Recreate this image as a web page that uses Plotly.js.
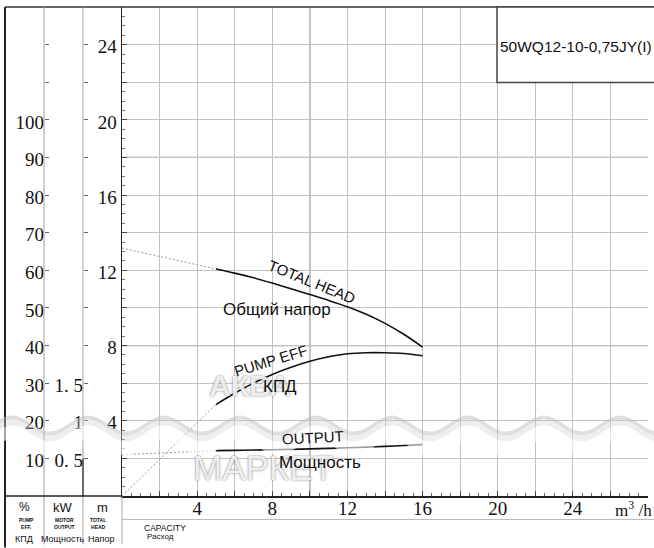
<!DOCTYPE html>
<html><head><meta charset="utf-8">
<script src="https://cdn.plot.ly/plotly-3.0.1.min.js"></script>
<style>html,body{margin:0;padding:0;background:#fff;}#chart{width:654px;height:548px;}</style>
</head><body><div id="chart"></div>
<script>
// ---- data ----
const headQDash = [0, 5];
const headDash = [13.18, 12.07];
const flowQ = [5, 6, 7, 8, 9, 10, 11, 12, 13, 14, 15, 16];
const headM = [12.07, 11.85, 11.6, 11.32, 11.02, 10.71, 10.4, 10.06, 9.66, 9.18, 8.6, 7.92];
const effQDash = [0, 5];
const effDash = [0, 24.3];
const effPct = [24.3, 27.3, 30.0, 32.3, 34.2, 35.8, 37.0, 37.8, 38.1, 38.1, 37.9, 37.3];
const powQDash = [0, 5];
const powDash = [0.55, 0.603];
const powKW = [0.603, 0.607, 0.611, 0.615, 0.620, 0.626, 0.633, 0.641, 0.650, 0.660, 0.671, 0.683];

const xTickVals = [2, 4, 6, 8, 10, 12, 14, 16, 18, 20, 22, 24, 26, 28];
const xTickText = ['', '4', '', '8', '', '12', '', '16', '', '20', '', '24', '', ''];
const headTickVals = [2, 4, 6, 8, 10, 12, 14, 16, 18, 20, 22, 24, 26];
const headTickText = ['', '4', '', '8', '', '12', '', '16', '', '20', '', '24', ''];
const pctTickVals = [10, 20, 30, 40, 50, 60, 70, 80, 90, 100, 110, 120, 130];
const pctTickText = ['10', '20', '30', '40', '50', '60', '70', '80', '90', '100', '', '', ''];
const kwTickVals = [0.5, 1, 1.5, 2, 2.5, 3, 3.5, 4, 4.5, 5, 5.5, 6, 6.5];
const kwTickText = ['0. 5', '1', '1. 5', '', '', '', '', '', '', '', '', '', ''];

const modelName = '50WQ12-10-0,75JY(I)';

// ---- geometry helpers (pixel -> paper) ----
const W = 654, Hh = 548, ML = 5, MR = 6, MT = 7, MB = 51.5;
const PW = W - ML - MR, PH = Hh - MT - MB;
const px = v => (v - ML) / PW;
const py = v => (Hh - MB - v) / PH;

const serif = 'Liberation Serif, Times New Roman, serif';
const sans = 'Liberation Sans, Arial, sans-serif';
const tickFont = {family: serif, size: 19, color: '#111'};

const dashLine = {color: '#8a8a8a', width: 0.9, dash: '2px,2px'};
const solidLine = {color: '#111', width: 1.6, shape: 'spline', smoothing: 0.8};

const traces = [
  {x: headQDash, y: headDash, mode: 'lines', line: dashLine, yaxis: 'y', hoverinfo: 'skip'},
  {x: flowQ, y: headM, mode: 'lines', line: solidLine, yaxis: 'y'},
  {x: effQDash, y: effDash, mode: 'lines', line: dashLine, yaxis: 'y2', hoverinfo: 'skip'},
  {x: flowQ, y: effPct, mode: 'lines', line: solidLine, yaxis: 'y2'},
  {x: powQDash, y: powDash, mode: 'lines', line: dashLine, yaxis: 'y3', hoverinfo: 'skip'},
  {x: flowQ, y: powKW, mode: 'lines', line: solidLine, yaxis: 'y3'}
];

// watermark wave (decoration)
function wavePath(off0, off1) {
  const P = 76, x0 = 12, amp = 8, mid = 424;
  const top = [], bot = [];
  for (let x = 0; x <= 660; x += 3) {
    const t = mid - amp * Math.cos(2 * Math.PI * (x - x0) / P);
    top.push([x, t + off0]);
    bot.push([x, t + off1]);
  }
  let s = 'M' + top.map(p => px(p[0]).toFixed(5) + ',' + py(p[1]).toFixed(5)).join(' L');
  s += ' L' + bot.reverse().map(p => px(p[0]).toFixed(5) + ',' + py(p[1]).toFixed(5)).join(' L') + ' Z';
  return s;
}

const shapes = [
  // darker grid lines
  {type: 'line', xref: 'x', yref: 'paper', x0: 10, x1: 10, y0: 0, y1: 1, line: {color: '#8c8c8c', width: 1.3}, layer: 'below'},
  {type: 'line', xref: 'paper', yref: 'y', x0: px(122), x1: 1, y0: 8, y1: 8, line: {color: '#999', width: 1.2}, layer: 'below'},
  {type: 'line', xref: 'paper', yref: 'y', x0: px(122), x1: 1, y0: 18, y1: 18, line: {color: '#999', width: 1.2}, layer: 'below'},
  // frame
  {type: 'line', xref: 'paper', yref: 'paper', x0: 0, x1: 0, y0: py(548), y1: 1, line: {color: '#222', width: 2}},
  {type: 'line', xref: 'paper', yref: 'paper', x0: 0, x1: px(660), y0: 1, y1: 1, line: {color: '#333', width: 1.5}},
  {type: 'line', xref: 'paper', yref: 'paper', x0: px(44), x1: px(44), y0: py(545), y1: 1, line: {color: '#a0a0a0', width: 1}},
  {type: 'line', xref: 'paper', yref: 'paper', x0: px(83), x1: px(83), y0: py(545), y1: 1, line: {color: '#a0a0a0', width: 1}},
  {type: 'line', xref: 'paper', yref: 'paper', x0: px(83), x1: px(83), y0: 0, y1: py(459), line: {color: '#333', width: 1.3}},
  {type: 'line', xref: 'paper', yref: 'paper', x0: px(122), x1: px(122), y0: py(545), y1: 0, line: {color: '#aaa', width: 1}},
  {type: 'line', xref: 'paper', yref: 'paper', x0: 0, x1: px(122), y0: 0, y1: 0, line: {color: '#222', width: 1.5}},
  {type: 'line', xref: 'paper', yref: 'paper', x0: px(122), x1: px(660), y0: py(520), y1: py(520), line: {color: '#bbb', width: 1}},
  // model box
  {type: 'rect', xref: 'paper', yref: 'paper', x0: px(497), x1: px(662), y0: py(82.5), y1: 1, line: {color: '#444', width: 1.5}, fillcolor: '#fff', layer: 'above'},
  // watermark wave
  {type: 'path', xref: 'paper', yref: 'paper', path: wavePath(0, 4), fillcolor: 'rgba(190,190,190,0.5)', line: {width: 0}, layer: 'above'},
  {type: 'path', xref: 'paper', yref: 'paper', path: wavePath(4, 10), fillcolor: 'rgba(210,210,210,0.38)', line: {width: 0}, layer: 'above'},
  {type: 'path', xref: 'paper', yref: 'paper', path: wavePath(10, 24), fillcolor: 'rgba(255,255,255,0.6)', line: {width: 0}, layer: 'above'}
];

const ann = (text, x, y, size, extra) => Object.assign({
  text: text, xref: 'x', yref: 'y', x: x, y: y, showarrow: false,
  xanchor: 'center', yanchor: 'middle', font: {family: sans, size: size, color: '#111'}
}, extra || {});
const pann = (text, x, y, size, extra) => Object.assign({
  text: text, xref: 'paper', yref: 'paper', x: px(x), y: py(y), showarrow: false,
  xanchor: 'center', yanchor: 'middle', font: {family: sans, size: size, color: '#111'}
}, extra || {});
const tiny = {family: sans, size: 5, color: '#111', weight: 'bold'};
const wmShadow = '0px 0px 1px rgba(0,0,0,0.45), 0px 0px 3px rgba(0,0,0,0.35)';

const annotations = [
  // watermark first so the labels draw on top
  pann('АКВА', 250, 386, 30, {font: {family: sans, size: 30, color: 'rgba(255,255,255,0.9)', weight: 'bold', shadow: wmShadow}}),
  pann('МАРКЕТ', 263, 468, 35, {font: {family: sans, size: 35, color: 'rgba(255,255,255,0.9)', shadow: wmShadow}}),
  ann('TOTAL HEAD', 10.1, 11.43, 15, {textangle: 22}),
  ann('Общий напор', 8.24, 9.89, 17),
  ann('PUMP EFF', 7.93, 7.19, 15, {textangle: -17}),
  ann('КПД', 8.4, 5.81, 17),
  ann('OUTPUT', 10.16, 3.1, 15, {textangle: -3}),
  ann('Мощность', 10.53, 1.78, 17),
  pann(modelName, 498, 47, 15.5, {xanchor: 'left'}),
  pann('%', 24, 508, 12),
  pann('kW', 63, 508, 13),
  pann('m', 102, 508, 13),
  pann('PUMP<br>EFF.', 17, 524, 5, {xanchor: 'left', font: tiny}),
  pann('MOTOR<br>OUTPUT', 64, 524, 5, {font: tiny}),
  pann('TOTAL<br>HEAD', 98, 524, 5, {font: tiny}),
  pann('КПД', 24, 540, 9),
  pann('Мощность', 63, 540, 9),
  pann('Напор', 101, 540, 9),
  pann('CAPACITY', 142, 529, 8.5, {xanchor: 'left'}),
  pann('Расход', 145, 537, 8, {xanchor: 'left'}),
  pann('m<sup>3</sup> /h', 633, 510, 17, {font: {family: serif, size: 17, color: '#111'}})
];

const layout = {
  width: W, height: Hh,
  margin: {l: ML, r: MR, t: MT, b: MB, pad: 0},
  paper_bgcolor: '#fff', plot_bgcolor: '#fff',
  showlegend: false,
  xaxis: {
    domain: [px(122), 1], range: [0, 28], tickmode: 'array', tickvals: xTickVals, ticktext: xTickText,
    ticks: 'inside', ticklen: 5, tickcolor: '#444', ticklabelstandoff: -5,
    minor: {dtick: 0.5, tick0: 0, ticks: 'inside', ticklen: 3, tickcolor: '#666', showgrid: false},
    showgrid: true, gridcolor: '#c2c2c2', gridwidth: 1, zeroline: false,
    showline: true, linecolor: '#222', linewidth: 1.5, tickfont: tickFont
  },
  yaxis: {
    domain: [0, 1], range: [0, 26], tickmode: 'array', tickvals: headTickVals, ticktext: headTickText,
    ticks: 'inside', ticklen: 5, tickcolor: '#444', ticklabelshift: 2,
    minor: {dtick: 0.5, tick0: 0, ticks: 'inside', ticklen: 3, tickcolor: '#777', showgrid: false},
    showgrid: true, gridcolor: '#c2c2c2', gridwidth: 1, zeroline: false,
    showline: true, linecolor: '#222', linewidth: 1.5, tickfont: tickFont
  },
  yaxis2: {
    overlaying: 'y', anchor: 'free', position: px(44), side: 'left', range: [0, 130],
    tickmode: 'array', tickvals: pctTickVals, ticktext: pctTickText, ticklabelshift: 2,
    ticks: 'inside', ticklen: 4, tickcolor: '#666', showgrid: false, zeroline: false, showline: false,
    tickfont: tickFont
  },
  yaxis3: {
    overlaying: 'y', anchor: 'free', position: px(83), side: 'left', range: [0, 6.5],
    tickmode: 'array', tickvals: kwTickVals, ticktext: kwTickText, ticklabelshift: 2,
    ticks: 'inside', ticklen: 4, tickcolor: '#666', showgrid: false, zeroline: false, showline: false,
    tickfont: tickFont
  },
  shapes: shapes,
  annotations: annotations
};

Plotly.newPlot('chart', traces, layout, {staticPlot: true, displayModeBar: false});
</script>
</body></html>
